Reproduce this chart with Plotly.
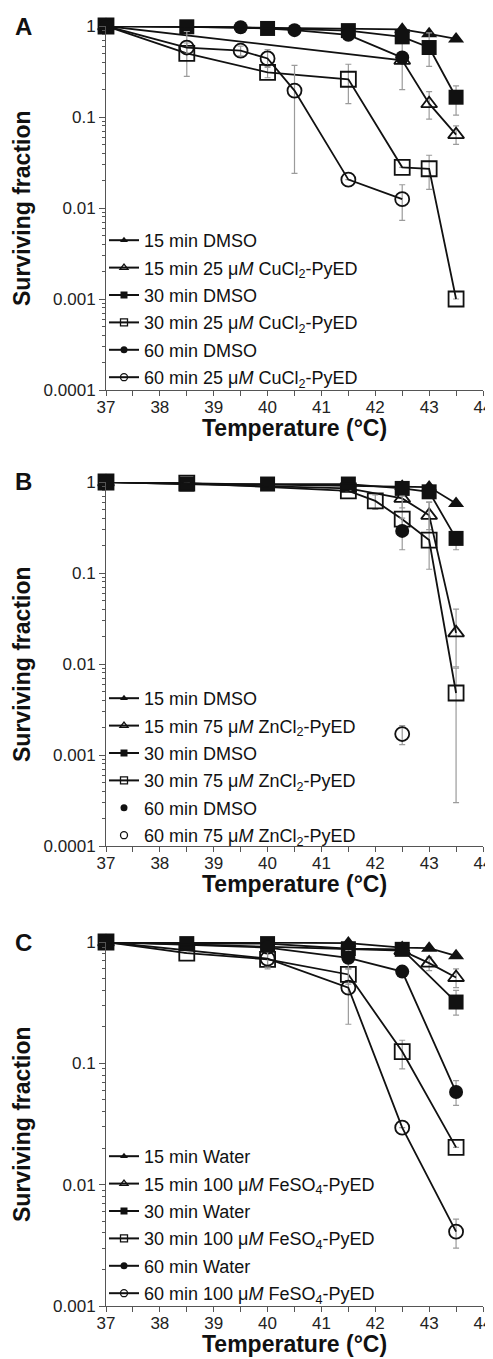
import plotly.graph_objects as go

# ---------------- Panel A: CuCl2-PyED ----------------
A_15_DMSO_T = [37, 42.5, 43, 43.5]
A_15_DMSO_SF = [1, 0.92, 0.82, 0.72]

A_15_CU_T = [37, 42.5, 43, 43.5]
A_15_CU_SF = [1, 0.42, 0.14, 0.064]
A_15_CU_LO = [None, 0.2, 0.095, 0.05]
A_15_CU_HI = [None, 0.67, 0.19, 0.08]

A_30_DMSO_T = [37, 38.5, 40, 41.5, 42.5, 43, 43.5]
A_30_DMSO_SF = [1, 0.98, 0.94, 0.89, 0.76, 0.58, 0.165]
A_30_DMSO_LO = [None, None, None, None, None, 0.36, 0.105]
A_30_DMSO_HI = [None, None, None, None, None, 0.84, 0.22]

A_30_CU_T = [37, 38.5, 40, 41.5, 42.5, 43, 43.5]
A_30_CU_SF = [1, 0.5, 0.31, 0.26, 0.028, 0.027, 0.001]
A_30_CU_LO = [None, 0.28, 0.27, 0.14, None, 0.016, None]
A_30_CU_HI = [None, 0.87, 0.36, 0.38, None, 0.038, None]

A_60_DMSO_T = [37, 39.5, 40.5, 41.5, 42.5]
A_60_DMSO_SF = [1, 0.97, 0.9, 0.8, 0.45]

A_60_CU_T = [37, 38.5, 39.5, 40, 40.5, 41.5, 42.5]
A_60_CU_SF = [1, 0.58, 0.535, 0.44, 0.195, 0.0205, 0.0125]
A_60_CU_LO = [None, 0.5, 0.47, 0.35, 0.024, None, 0.0073]
A_60_CU_HI = [None, 0.65, 0.6, 0.55, 0.37, None, 0.018]

# ---------------- Panel B: ZnCl2-PyED ----------------
B_15_DMSO_T = [37, 42.5, 43, 43.5]
B_15_DMSO_SF = [1, 0.9, 0.88, 0.58]

B_15_ZN_T = [37, 41.5, 42.5, 43, 43.5]
B_15_ZN_SF = [1, 0.85, 0.66, 0.43, 0.022]
B_15_ZN_LO = [None, None, 0.52, 0.3, 0.0093]
B_15_ZN_HI = [None, None, 0.8, 0.6, 0.04]

B_30_DMSO_T = [37, 38.5, 40, 41.5, 42.5, 43, 43.5]
B_30_DMSO_SF = [1, 0.95, 0.95, 0.95, 0.85, 0.78, 0.24]
B_30_DMSO_LO = [None, None, None, None, None, None, 0.18]
B_30_DMSO_HI = [None, None, None, None, None, None, 0.28]

B_30_ZN_T = [37, 38.5, 41.5, 42, 42.5, 43, 43.5]
B_30_ZN_SF = [1, 0.97, 0.8, 0.62, 0.39, 0.23, 0.0048]
B_30_ZN_LO = [None, None, None, 0.5, 0.28, 0.11, 0.0003]
B_30_ZN_HI = [None, None, None, 0.72, 0.7, 0.6, 0.009]

B_60_DMSO_T = [37, 42.5]
B_60_DMSO_SF = [1, 0.29]
B_60_DMSO_LO = [None, 0.18]
B_60_DMSO_HI = [None, 0.4]

B_60_ZN_T = [42.5]
B_60_ZN_SF = [0.0017]
B_60_ZN_LO = [0.0013]
B_60_ZN_HI = [0.0021]

# ---------------- Panel C: FeSO4-PyED ----------------
C_15_W_T = [37, 41.5, 42.5, 43, 43.5]
C_15_W_SF = [1, 0.98, 0.9, 0.89, 0.77]

C_15_FE_T = [37, 42.5, 43, 43.5]
C_15_FE_SF = [1, 0.85, 0.67, 0.51]
C_15_FE_LO = [None, None, 0.58, 0.42]
C_15_FE_HI = [None, None, 0.75, 0.6]

C_30_W_T = [37, 38.5, 40, 41.5, 42.5, 43.5]
C_30_W_SF = [1, 0.97, 0.97, 0.88, 0.87, 0.32]
C_30_W_LO = [None, None, None, None, None, 0.25]
C_30_W_HI = [None, None, None, None, None, 0.4]

C_30_FE_T = [37, 38.5, 40, 41.5, 42.5, 43.5]
C_30_FE_SF = [1, 0.81, 0.72, 0.54, 0.125, 0.0203]
C_30_FE_LO = [None, None, 0.6, 0.45, 0.09, None]
C_30_FE_HI = [None, None, 0.8, 0.68, 0.155, None]

C_60_W_T = [37, 40, 41.5, 42.5, 43.5]
C_60_W_SF = [1, 0.9, 0.74, 0.57, 0.058]
C_60_W_LO = [None, None, 0.6, None, 0.045]
C_60_W_HI = [None, None, 0.85, None, 0.072]

C_60_FE_T = [37, 40, 41.5, 42.5, 43.5]
C_60_FE_SF = [1, 0.73, 0.42, 0.0295, 0.0041]
C_60_FE_LO = [None, 0.62, 0.21, None, 0.003]
C_60_FE_HI = [None, 0.82, 0.6, None, 0.0052]

X_TICKS = [37, 38, 39, 40, 41, 42, 43, 44]
Y_TICKS = [1, 0.1, 0.01, 0.001, 0.0001]
Y_TICK_TEXT = ["1", "0.1", "0.01", "0.001", "0.0001"]

UM = "\u03bc<i>M</i>"
A_NAMES = ["15 min DMSO", f"15 min 25 {UM} CuCl<sub>2</sub>-PyED",
           "30 min DMSO", f"30 min 25 {UM} CuCl<sub>2</sub>-PyED",
           "60 min DMSO", f"60 min 25 {UM} CuCl<sub>2</sub>-PyED"]
B_NAMES = ["15 min DMSO", f"15 min 75 {UM} ZnCl<sub>2</sub>-PyED",
           "30 min DMSO", f"30 min 75 {UM} ZnCl<sub>2</sub>-PyED",
           "60 min DMSO", f"60 min 75 {UM} ZnCl<sub>2</sub>-PyED"]
C_NAMES = ["15 min Water", f"15 min 100 {UM} FeSO<sub>4</sub>-PyED",
           "30 min Water", f"30 min 100 {UM} FeSO<sub>4</sub>-PyED",
           "60 min Water", f"60 min 100 {UM} FeSO<sub>4</sub>-PyED"]

FONT = "Liberation Sans, Arial, sans-serif"
INK = "#111111"
ERR = "#9b9b9b"
SYMBOLS = ["triangle-up", "triangle-up-open", "square", "square-open",
           "circle", "circle-open"]

fig = go.Figure()


def err_arrays(y, lo, hi):
    if lo is None:
        return None
    plus = [(h - v) if h is not None else 0 for v, h in zip(y, hi)]
    minus = [(v - l) if l is not None else 0 for v, l in zip(y, lo)]
    return dict(type="data", symmetric=False, array=plus, arrayminus=minus,
                color=ERR, thickness=1.2, width=3)


def add(panel, idx, name, x, y, lo=None, hi=None, mode="lines+markers"):
    xa = "x" if panel == 1 else f"x{panel}"
    ya = "y" if panel == 1 else f"y{panel}"
    leg = "legend" if panel == 1 else f"legend{panel}"
    sym = SYMBOLS[idx]
    size = 15 if "square" in sym else 14
    fig.add_trace(go.Scatter(
        x=x, y=y, mode=mode, xaxis=xa, yaxis=ya, showlegend=False,
        cliponaxis=False, error_y=err_arrays(y, lo, hi),
        line=dict(color=INK, width=1.8),
        marker=dict(symbol=sym, size=size, color=INK,
                    line=dict(color=INK, width=1.8 if "open" in sym else 0))))
    # small legend sample
    fig.add_trace(go.Scatter(
        x=[None], y=[None], mode=mode, xaxis=xa, yaxis=ya, name=name,
        legend=leg, legendgroup=f"{panel}-{idx}",
        line=dict(color=INK, width=2),
        marker=dict(symbol=sym, size=7, color=INK,
                    line=dict(color=INK, width=1.3 if "open" in sym else 0))))


add(1, 0, A_NAMES[0], A_15_DMSO_T, A_15_DMSO_SF)
add(1, 1, A_NAMES[1], A_15_CU_T, A_15_CU_SF, A_15_CU_LO, A_15_CU_HI)
add(1, 2, A_NAMES[2], A_30_DMSO_T, A_30_DMSO_SF, A_30_DMSO_LO, A_30_DMSO_HI)
add(1, 3, A_NAMES[3], A_30_CU_T, A_30_CU_SF, A_30_CU_LO, A_30_CU_HI)
add(1, 4, A_NAMES[4], A_60_DMSO_T, A_60_DMSO_SF)
add(1, 5, A_NAMES[5], A_60_CU_T, A_60_CU_SF, A_60_CU_LO, A_60_CU_HI)

add(2, 0, B_NAMES[0], B_15_DMSO_T, B_15_DMSO_SF)
add(2, 1, B_NAMES[1], B_15_ZN_T, B_15_ZN_SF, B_15_ZN_LO, B_15_ZN_HI)
add(2, 2, B_NAMES[2], B_30_DMSO_T, B_30_DMSO_SF, B_30_DMSO_LO, B_30_DMSO_HI)
add(2, 3, B_NAMES[3], B_30_ZN_T, B_30_ZN_SF, B_30_ZN_LO, B_30_ZN_HI)
add(2, 4, B_NAMES[4], B_60_DMSO_T, B_60_DMSO_SF, B_60_DMSO_LO, B_60_DMSO_HI, mode="markers")
add(2, 5, B_NAMES[5], B_60_ZN_T, B_60_ZN_SF, B_60_ZN_LO, B_60_ZN_HI, mode="markers")

add(3, 0, C_NAMES[0], C_15_W_T, C_15_W_SF)
add(3, 1, C_NAMES[1], C_15_FE_T, C_15_FE_SF, C_15_FE_LO, C_15_FE_HI)
add(3, 2, C_NAMES[2], C_30_W_T, C_30_W_SF, C_30_W_LO, C_30_W_HI)
add(3, 3, C_NAMES[3], C_30_FE_T, C_30_FE_SF, C_30_FE_LO, C_30_FE_HI)
add(3, 4, C_NAMES[4], C_60_W_T, C_60_W_SF, C_60_W_LO, C_60_W_HI)
add(3, 5, C_NAMES[5], C_60_FE_T, C_60_FE_SF, C_60_FE_LO, C_60_FE_HI)

# the page body adds an 8px margin, so lay the figure out 8px up/left;
# anything past the window edge is simply cut off
OFF = 8
W = 490
H = 1359 - OFF
X_DOM = [(106 - OFF) / W, (483 - OFF) / W]
PANELS = [(26, 390, -4), (482, 846, -4), (942, 1306, -3)]
LEGEND_TOPS = [222, 680, 1138]

minor_y = [m * 10 ** e for e in range(-4, 0) for m in range(2, 10)]
minor_x = [37.5 + i for i in range(7)]


def py(v):
    return 1 - (v - OFF) / H


def px(v):
    return (v - OFF) / W


layout = dict(
    width=W, height=H, margin=dict(l=0, r=0, t=0, b=0),
    paper_bgcolor="white", plot_bgcolor="white",
    font=dict(family=FONT, size=17, color=INK),
    annotations=[],
)

for i, (top, bot, ymin) in enumerate(PANELS):
    sfx = "" if i == 0 else str(i + 1)
    nt = -ymin + 1
    layout["xaxis" + sfx] = dict(
        domain=X_DOM, range=[37, 44], anchor="y" + sfx,
        tickvals=X_TICKS, ticks="outside", ticklen=5, tickwidth=1,
        tickcolor="#555", showline=True, linecolor="#555", linewidth=1,
        showgrid=False, zeroline=False, automargin=False,
        ticklabelstandoff=-3,
        tickfont=dict(size=17, color="#222"),
        minor=dict(tickvals=minor_x, ticks="outside", ticklen=5,
                   tickcolor="#555", showgrid=False))
    layout["yaxis" + sfx] = dict(
        domain=[py(bot), py(top)], type="log", range=[ymin, 0],
        anchor="x" + sfx, tickvals=Y_TICKS[:nt], ticktext=Y_TICK_TEXT[:nt],
        ticks="outside", ticklen=6, tickwidth=1, tickcolor="#555",
        showline=True, linecolor="#555", linewidth=1, showgrid=False,
        zeroline=False, automargin=False,
        tickfont=dict(size=17, color="#222"),
        minor=dict(tickvals=[v for v in minor_y if v >= 10 ** ymin],
                   ticks="outside", ticklen=3, tickcolor="#555",
                   showgrid=False))
    layout["legend" + sfx] = dict(
        x=px(104), xanchor="left", y=py(LEGEND_TOPS[i]), yanchor="top",
        bgcolor="rgba(0,0,0,0)", borderwidth=0, tracegroupgap=1,
        font=dict(family=FONT, size=18, color=INK), itemwidth=30)
    mid = (top + bot) / 2
    layout["annotations"] += [
        dict(text="<b>Surviving fraction</b>", textangle=-90, x=px(22),
             y=py(mid), xref="paper", yref="paper", showarrow=False,
             xanchor="center", yanchor="middle",
             font=dict(size=23, family=FONT, color=INK)),
        dict(text="<b>Temperature (\u00b0C)</b>", x=px(294),
             y=py(bot + 38), xref="paper", yref="paper",
             xanchor="center", yanchor="middle",
             showarrow=False, font=dict(size=23, family=FONT, color=INK)),
        dict(text="<b>" + "ABC"[i] + "</b>", x=px(23), y=py(top),
             xref="paper", yref="paper", showarrow=False,
             xanchor="center", yanchor="middle",
             font=dict(size=24, family=FONT, color=INK)),
    ]

fig.update_layout(**layout)
fig.write_html("out.html")
